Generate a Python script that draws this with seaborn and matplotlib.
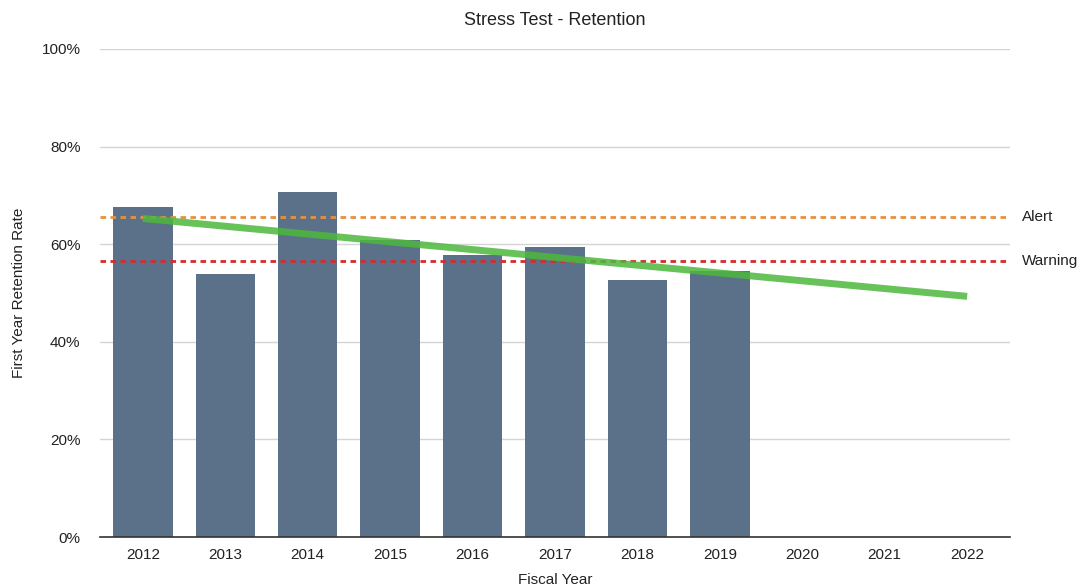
import numpy as np
import pandas as pd
import matplotlib
matplotlib.use('Agg')
import matplotlib.pyplot as plt
import seaborn as sns
from matplotlib.ticker import PercentFormatter

# --- data ---
years = ['2012', '2013', '2014', '2015', '2016', '2017', '2018', '2019', '2020', '2021', '2022']
retention = [67.6, 53.9, 70.7, 60.9, 57.7, 59.4, 52.7, 54.6, np.nan, np.nan, np.nan]
alert_level = 65.6
warning_level = 56.5

sns.set_theme(style='white')
plt.rcParams['font.family'] = ['Liberation Sans', 'DejaVu Sans']

df = pd.DataFrame({'year': years, 'retention': retention})

fig = plt.figure(figsize=(10.83, 5.88), dpi=100)
ax = fig.add_axes([0.0923, 0.0867, 0.8403, 0.83])

sns.barplot(data=df, x='year', y='retention', order=years, color='#5b7089',
            saturation=1, width=0.72, linewidth=0, ax=ax, zorder=2)

# trend line: linear fit over the known years, extended to the last year
known = df.dropna()
xk = np.array([years.index(y) for y in known['year']])
coef = np.polyfit(xk, known['retention'], 1)
xt = np.arange(len(years))
trend = pd.DataFrame({'x': xt, 'y': np.polyval(coef, xt)})
sns.lineplot(data=trend, x='x', y='y', color='#4cb83c', alpha=0.85, lw=5,
             ax=ax, zorder=4, solid_capstyle='butt')

ax.axhline(alert_level, color='#e8913c', lw=2, ls=(0, (2, 1.6)), zorder=3)
ax.axhline(warning_level, color='#d92b2b', lw=2, ls=(0, (2, 1.6)), zorder=3)
ax.text(1.013, alert_level, 'Alert', transform=ax.get_yaxis_transform(),
        va='center', ha='left', fontsize=11, color='#222222')
ax.text(1.013, warning_level, 'Warning', transform=ax.get_yaxis_transform(),
        va='center', ha='left', fontsize=11, color='#222222')

ax.set_ylim(0, 100)
ax.set_xlim(-0.52, 10.52)
ax.set_yticks([0, 20, 40, 60, 80, 100])
ax.yaxis.set_major_formatter(PercentFormatter(decimals=0))
ax.grid(axis='y', color='#d4d4d4', lw=1, zorder=0)
ax.set_axisbelow(True)
for s in ['top', 'right', 'left']:
    ax.spines[s].set_visible(False)
ax.spines['bottom'].set_color('#333333')
ax.spines['bottom'].set_linewidth(1.2)
ax.tick_params(axis='both', length=0, labelsize=11, colors='#222222', pad=8)
ax.tick_params(axis='y', pad=14)

ax.set_title('Stress Test - Retention', fontsize=13, color='#222222', pad=17)
ax.set_xlabel('Fiscal Year', fontsize=11, color='#222222', labelpad=8)
ax.set_ylabel('First Year Retention Rate', fontsize=11, color='#222222', labelpad=11)

fig.savefig('out.png', dpi=100)
